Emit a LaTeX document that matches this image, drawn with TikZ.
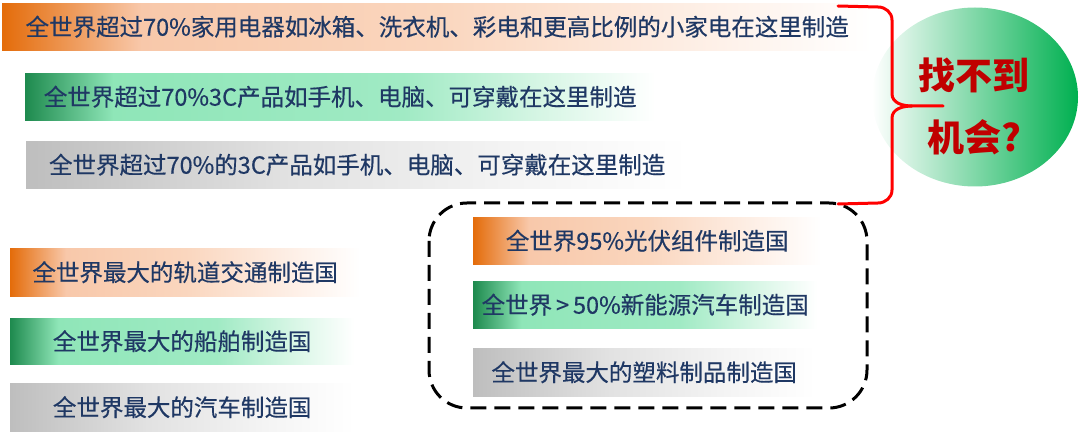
\documentclass[tikz,border=0pt]{standalone}
\usepackage{fontspec}
\setmainfont{Noto Sans CJK SC}
\newfontfamily\barfont[FakeBold=0.35]{Noto Sans CJK SC}
\usepackage{xcolor}
\usepackage{tikz}
\usetikzlibrary{shapes.geometric,positioning}

\definecolor{navy}{RGB}{31,56,100}
\definecolor{darkred}{RGB}{192,0,0}
\definecolor{okgreen}{RGB}{0,176,80}
\definecolor{orD}{RGB}{228,108,10}
\definecolor{orM}{RGB}{248,200,170}
\definecolor{orL}{RGB}{250,214,190}
\definecolor{orP}{RGB}{253,234,222}
\definecolor{grD}{RGB}{30,138,78}
\definecolor{grM}{RGB}{143,230,184}
\definecolor{grL}{RGB}{160,234,196}
\definecolor{grP}{RGB}{215,246,229}
\definecolor{gyD}{RGB}{190,190,190}
\definecolor{gyM}{RGB}{226,226,226}
\definecolor{gyP}{RGB}{244,244,244}

\pgfdeclarehorizontalshading{orangebar}{100bp}{color(0bp)=(orD); color(25bp)=(orD); color(33bp)=(orM); color(50bp)=(orL); color(62bp)=(orP); color(75bp)=(white); color(100bp)=(white)}
\pgfdeclarehorizontalshading{greenbar}{100bp}{color(0bp)=(grD); color(25bp)=(grD); color(32bp)=(grM); color(55bp)=(grL); color(66bp)=(grP); color(75bp)=(white); color(100bp)=(white)}
\pgfdeclarehorizontalshading{graybar}{100bp}{color(0bp)=(gyD); color(25bp)=(gyD); color(45bp)=(gyM); color(62bp)=(gyP); color(75bp)=(white); color(100bp)=(white)}

\begin{document}
\begin{tikzpicture}[x=1pt,y=-1pt,
  bar/.style={rectangle, inner sep=0pt, minimum height=47pt, anchor=north west,
    text=navy, font=\barfont\fontsize{23.5}{28}\selectfont},
  dashframe/.style={line width=3pt, dash pattern=on 16pt off 8pt, rounded corners=38pt},
  bracket/.style={red, line width=3pt, line join=round, line cap=round}]
  \useasboundingbox (0,0) rectangle (1080,435);
  % top rows
  \node[bar, shading=orangebar, minimum width=870pt] (home) at (2,3) {全世界超过70\%家用电器如冰箱、洗衣机、彩电和更高比例的小家电在这里制造};
  \node[bar, shading=greenbar, minimum width=630pt] (ccc) at (25,73) {全世界超过70\%3C产品如手机、电脑、可穿戴在这里制造};
  \node[bar, shading=graybar, minimum width=662pt] (cccb) at (26,141) {全世界超过70\%的3C产品如手机、电脑、可穿戴在这里制造};
  % bottom left
  \node[bar, shading=orangebar, minimum width=350pt, minimum height=48pt] (rail) at (10,248) {全世界最大的轨道交通制造国};
  \node[bar, shading=greenbar, minimum width=344pt, minimum height=46pt] (ship) at (10,318) {全世界最大的船舶制造国};
  \node[bar, shading=graybar, minimum width=344pt, minimum height=48pt] (car) at (10,383) {全世界最大的汽车制造国};
  % bottom right
  \draw[dashframe] (429,203) rectangle (867,408);
  \node[bar, shading=orangebar, minimum width=348pt] (solar) at (473,217) {全世界95\%光伏组件制造国};
  \node[bar, shading=greenbar, minimum width=344pt] (ev) at (473,281) {全世界\,>\,50\%新能源汽车制造国};
  \node[bar, shading=graybar, minimum width=342pt, minimum height=48pt] (plastic) at (473,348) {全世界最大的塑料制品制造国};
  % chance
  \node[ellipse, inner sep=0pt, minimum width=206pt, minimum height=179pt,
    left color=white, right color=okgreen] (chance) at (975,97) {};
  \node[text=darkred, align=center, font=\bfseries\fontsize{37}{62}\selectfont] (chancetext) at (974,106) {找不到\\机会?};
  \draw[bracket] (838,6) -- (878,7) to[out=0,in=90] (892,20) -- (892,94)
    to[out=-90,in=180] (912,106) -- (943,106);
  \draw[bracket] (912,106) to[out=180,in=90] (892,118) -- (892,190)
    to[out=-90,in=0] (878,203) -- (838,204);
\end{tikzpicture}
\end{document}
